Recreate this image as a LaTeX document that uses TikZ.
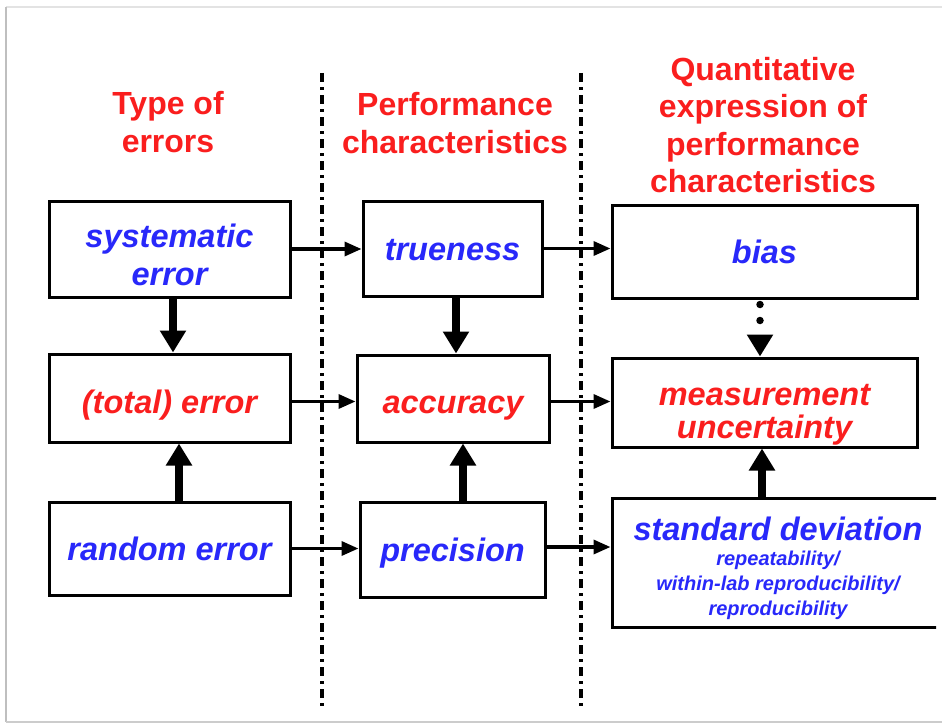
\documentclass[tikz,border=0pt]{standalone}
\usepackage{fontspec}
\setmainfont{Liberation Sans}
\usetikzlibrary{arrows.meta}
\definecolor{tblue}{RGB}{40,40,250}
\definecolor{tred}{RGB}{250,30,30}

\begin{document}
\begin{tikzpicture}[x=1pt,y=-1pt,
  box/.style={draw=black, line width=3pt, fill=white, rectangle, inner sep=0pt,
    align=center, font=\fontsize{32.5}{38}\selectfont\bfseries\itshape},
  oneline/.style={text height=24pt, text depth=0pt},
  head/.style={text=tred, align=center, inner sep=0pt,
    font=\fontsize{32}{38}\selectfont\bfseries},
  flow/.style={line width=3.4pt, -{Triangle[length=17pt,width=14pt]}},
  link/.style={line width=7.5pt, -{Triangle[length=22pt,width=25pt]}},
  divider/.style={line width=3.2pt, dash pattern=on 9pt off 5pt on 2.5pt off 5.5pt}]

\useasboundingbox (0,0) rectangle (942,725);
\fill[white] (0,0) rectangle (942,725);

% page frame
\draw[gray!22, line width=1.5pt] (6,7) -- (942,7);
\draw[gray!50, line width=2.6pt] (6,7) -- (6,722);
\draw[gray!40, line width=2.2pt] (6,722) -- (942,722);

% column dividers
\draw[divider] (322,73) -- (322,708);
\draw[divider] (581,73) -- (581,708);

% column headings
\node[head] (h1) at (168,122) {Type of\\errors};
\node[head] (h2) at (455,123) {Performance\\characteristics};
\node[head, font=\fontsize{32}{37.5}\selectfont\bfseries] (h3) at (763,125)
  {Quantitative\\expression of\\performance\\characteristics};

% column 1: types of error
\node[box, text=tblue, minimum width=241pt, minimum height=96pt, text height=72pt, text depth=0pt]
  (sys) at (169.5,249) {systematic\\error};
\node[box, oneline, text height=30pt, text=tred,  minimum width=241pt, minimum height=88pt] (tot) at (169.5,398) {(total) error};
\node[box, oneline, text=tblue, minimum width=241pt, minimum height=93pt] (rnd) at (169.5,548.5) {random error};

% column 2: performance characteristics
\node[box, oneline, text=tblue, minimum width=179pt, minimum height=95pt] (tru) at (452.5,248.5) {trueness};
\node[box, oneline, text height=30pt, text=tred,  minimum width=192pt, minimum height=87pt] (acc) at (453,398.5) {accuracy};
\node[box, oneline, text=tblue, minimum width=185pt, minimum height=95pt] (prc) at (452.5,549.5) {precision};

% column 3: quantitative expressions
\node[box, oneline, text=tblue, minimum width=305pt, minimum height=93pt] (bias) at (764.5,251.5) {bias};
\node[box, text=tred,  minimum width=305pt, minimum height=89pt, text height=71pt, text depth=0pt,
  font=\fontsize{32.5}{33}\selectfont\bfseries\itshape] (mu) at (764.5,402.5) {measurement\\uncertainty};
\begin{scope}
  \clip (0,0) rectangle (936,725);
  \node[box, text=tblue, minimum width=332pt, minimum height=129pt, text height=105pt, text depth=0pt,
    font=\fontsize{20}{25}\selectfont\bfseries\itshape] (sd) at (778,562.5)
    {{\fontsize{32.5}{34}\selectfont standard deviation}\\
     repeatability/\\within-lab reproducibility/\\reproducibility};
\end{scope}

% horizontal flows
\draw[flow] (sys.east) -- (sys.east -| tru.west);
\draw[flow] (tru.east) -- (tru.east -| bias.west);
\draw[flow] ([yshift=-3.5pt]tot.east) -- ([yshift=-3.5pt]tot.east -| acc.west);
\draw[flow] ([yshift=-3pt]acc.east) -- ([yshift=-3pt]acc.east -| mu.west);
\draw[flow] (rnd.east) -- (rnd.east -| prc.west);
\draw[flow] ([yshift=2.5pt]prc.east) -- ([yshift=2.5pt]prc.east -| sd.west);

% vertical links
\draw[link] ([xshift=3.5pt]sys.south) -- ([xshift=3.5pt]sys.south |- tot.north);
\draw[link] ([xshift=9.5pt]rnd.north) -- ([xshift=9.5pt]rnd.north |- tot.south);
\draw[link] ([xshift=3.5pt]tru.south) -- ([xshift=3.5pt]tru.south |- acc.north);
\draw[link] ([xshift=10.5pt]prc.north) -- ([xshift=10.5pt]prc.north |- acc.south);
\draw[link, line cap=round, dash pattern=on 0pt off 16pt, dash phase=11pt]
  ([xshift=-4.5pt]bias.south) -- ([xshift=-4.5pt]bias.south |- mu.north);
\draw[link] ([xshift=-2.5pt]mu.south |- sd.north) -- ([xshift=-2.5pt]mu.south);
\end{tikzpicture}
\end{document}
